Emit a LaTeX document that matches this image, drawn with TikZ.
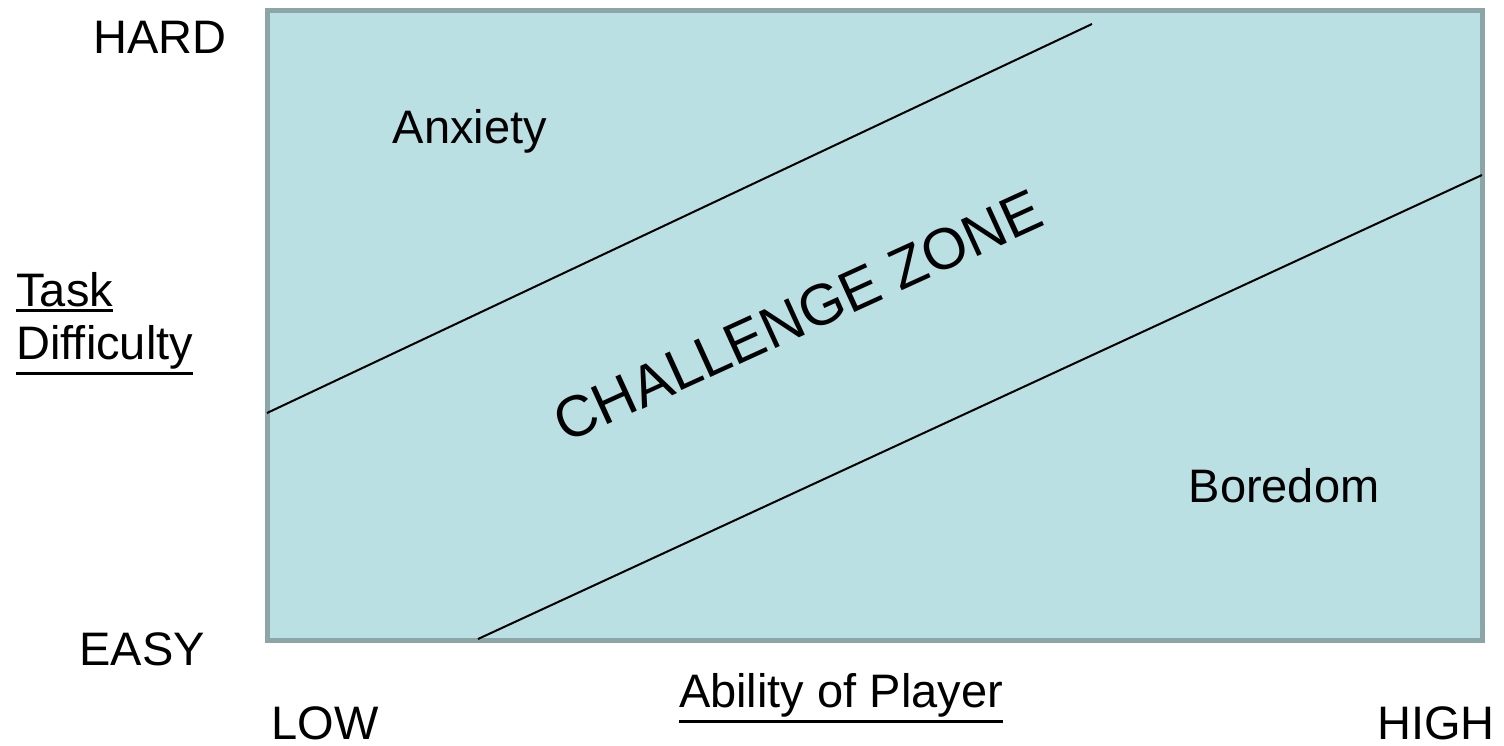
\documentclass[tikz,border=0pt]{standalone}
\usepackage{fontspec}
\setmainfont{Liberation Sans}
\definecolor{zonefill}{HTML}{BAE0E3}
\definecolor{zoneedge}{HTML}{8CA6A8}
% underline set below the text's depth
\newcommand{\ulabel}[1]{\setbox0=\hbox{#1}\dimen0=\dp0 \advance\dimen0 by 3pt \rlap{\rule[-\dimen0]{\wd0}{1.5pt}}\box0}

\begin{document}
\begin{tikzpicture}[
  x=0.5pt, y=-0.5pt,
  lbl/.style={font=\fontsize{23.5}{28}\selectfont, inner sep=0pt, anchor=base},
  zonetitle/.style={font=\fontsize{29}{34}\selectfont, inner sep=0pt, rotate=24.5},
  bound/.style={line width=1pt},
]
  \useasboundingbox (0,0) rectangle (1504,745);

  % Chart area
  \draw[line width=2.5pt, draw=zoneedge, fill=zonefill] (267.5,10) rectangle (1482.5,640);

  % Zone boundaries
  \coordinate (a1) at (267,413);
  \coordinate (a2) at (1092,24);
  \coordinate (b1) at (478,639);
  \coordinate (b2) at (1482,175);
  \draw[bound] (a1) -- (a2);
  \draw[bound] (b1) -- (b2);

  % Zones
  \node[lbl] (anx) at (470,143) {Anxiety};
  \node[lbl] (bor) at (1284,502) {Boredom};
  \node[zonetitle] (cz) at (798,316) {CHALLENGE ZONE};

  % Vertical axis
  \node[lbl] (hard) at (160,53) {HARD};
  \node[lbl, anchor=base west] (task) at (16,306) {\ulabel{Task}};
  \node[lbl, anchor=base west] (diff) at (16,359) {\ulabel{Difficulty}};
  \node[lbl] (easy) at (142,665) {EASY};

  % Horizontal axis
  \node[lbl] (low) at (325,739) {LOW};
  \node[lbl] (abil) at (841,707) {\ulabel{Ability of Player}};
  \node[lbl] (high) at (1436,739) {HIGH};
\end{tikzpicture}
\end{document}
